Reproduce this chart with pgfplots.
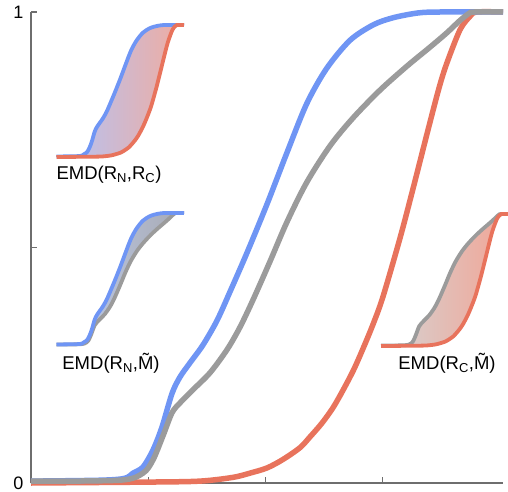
\documentclass[border=0pt]{standalone}
\usepackage{pgfplots}
\pgfplotsset{compat=1.18}
\usepackage{pgfplotstable}
\usepgfplotslibrary{fillbetween}
\usepackage{fontspec}
\setmainfont{Liberation Sans}

\definecolor{cblue}{RGB}{111,149,244}
\definecolor{cred}{RGB}{232,115,92}
\definecolor{cgray}{RGB}{155,155,155}
\definecolor{caxis}{RGB}{110,110,110}

\pgfplotstableread{
x y
0 0.004
0.60 0.006
0.80 0.010
0.87 0.021
0.955 0.034
1.04 0.070
1.117 0.119
1.202 0.190
1.27 0.225
1.355 0.255
1.466 0.293
1.586 0.345
1.70 0.408
1.84 0.488
2.012 0.592
2.180 0.700
2.350 0.805
2.520 0.880
2.720 0.940
2.920 0.973
3.090 0.988
3.300 0.998
3.487 1.0
4.024 1.0
}\blue

\pgfplotstableread{
x y
0 0.004
0.759 0.006
0.955 0.021
1.04 0.049
1.125 0.100
1.202 0.149
1.27 0.170
1.381 0.198
1.526 0.234
1.671 0.283
1.782 0.331
1.893 0.389
2.037 0.470
2.18 0.553
2.35 0.638
2.55 0.716
2.745 0.775
2.975 0.834
3.205 0.885
3.40 0.925
3.546 0.956
3.657 0.982
3.74 0.998
3.78 1.0
4.024 1.0
}\gray

\pgfplotstableread{
x y
0 0.0
1.014 0.002
1.441 0.004
1.722 0.012
1.867 0.021
2.012 0.032
2.148 0.050
2.293 0.075
2.379 0.098
2.48 0.127
2.575 0.160
2.66 0.197
2.75 0.240
2.83 0.285
2.916 0.337
3.00 0.395
3.146 0.520
3.257 0.625
3.384 0.749
3.48 0.840
3.546 0.892
3.657 0.962
3.74 0.990
3.80 1.0
4.024 1.0
}\red

\begin{document}
\begin{tikzpicture}
\pgfplotsset{
  inset/.style={scale only axis, width=127.5pt, height=132pt,
    xmin=0, xmax=4.024, ymin=0, ymax=1, hide axis, clip=false},
}
\begin{axis}[
  at={(31pt,8pt)}, anchor=south west,
  scale only axis, width=472pt, height=471pt,
  xmin=0, xmax=4.024, ymin=0, ymax=1,
  axis x line*=bottom, axis y line*=left,
  axis line style={caxis, line width=1.2pt},
  xtick={1,2,3}, xticklabels={},
  ytick={0,1}, yticklabels={0,1},
  extra y ticks={0.5}, extra y tick labels={},
  tick align=inside, major tick length=6pt,
  tick style={caxis, line width=1.2pt},
  ticklabel style={font=\fontsize{18}{18}\selectfont},
  yticklabel style={xshift=-4pt},
  /pgf/number format/assume math mode=true,
  clip=false,
]
\addplot[cred, line width=5.5pt, smooth] table {\red};
\addplot[cblue, line width=5.5pt, smooth] table {\blue};
\addplot[cgray, line width=5.5pt, smooth] table {\gray};
\end{axis}

% inset 1: EMD(RN,RC)
\begin{axis}[inset, at={(56.5pt,334pt)}, anchor=south west]
\addplot[draw=none, name path=A, smooth] table {\blue};
\addplot[draw=none, name path=B, smooth] table {\red};
\addplot[left color={rgb,255:red,178;green,196;blue,248}, right color={rgb,255:red,240;green,172;blue,160}] fill between[of=A and B];
\addplot[cblue, line width=3.8pt, smooth] table {\blue};
\addplot[cred, line width=3.8pt, smooth] table {\red};
\end{axis}

% inset 2: EMD(RN,M)
\begin{axis}[inset, at={(56.5pt,146pt)}, anchor=south west]
\addplot[draw=none, name path=A, smooth] table {\blue};
\addplot[draw=none, name path=B, smooth] table {\gray};
\addplot[left color={rgb,255:red,190;green,205;blue,240}, right color={rgb,255:red,168;green,170;blue,178}] fill between[of=A and B];
\addplot[cgray, line width=3.8pt, smooth] table {\gray};
\addplot[cblue, line width=3.8pt, smooth] table {\blue};
\end{axis}

% inset 3: EMD(RC,M)
\begin{axis}[inset, at={(381pt,145pt)}, anchor=south west]
\addplot[draw=none, name path=A, smooth] table {\gray};
\addplot[draw=none, name path=B, smooth] table {\red};
\addplot[left color={rgb,255:red,212;green,212;blue,212}, right color={rgb,255:red,242;green,165;blue,150}] fill between[of=A and B];
\addplot[cgray, line width=3.8pt, smooth] table {\gray};
\addplot[cred, line width=3.8pt, smooth] table {\red};
\end{axis}

\node[font=\fontsize{18.5}{18.5}\selectfont, inner sep=0pt] at (109pt,316pt) {EMD(R\textsubscript{N},R\textsubscript{C})};
\node[font=\fontsize{18.5}{18.5}\selectfont, inner sep=0pt] at (111pt,128pt) {EMD(R\textsubscript{N},\~{M})};
\node[font=\fontsize{18.5}{18.5}\selectfont, inner sep=0pt] at (447pt,128pt) {EMD(R\textsubscript{C},\~{M})};

\pgfresetboundingbox
\useasboundingbox (0,0) rectangle (508pt,491pt);
\end{tikzpicture}
\end{document}
